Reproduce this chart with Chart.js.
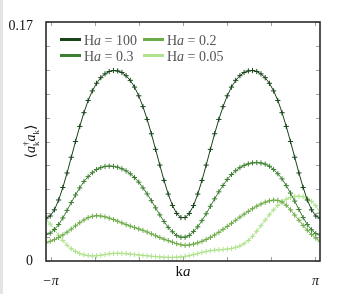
<!DOCTYPE html>
<html>
<head>
<meta charset="utf-8">
<script src="https://cdn.jsdelivr.net/npm/chart.js@4.4.0/dist/chart.umd.min.js"></script>
<style>
  html, body { margin: 0; padding: 0; background: #fff; }
  #wrap { position: relative; width: 353px; height: 294px; background: linear-gradient(to right, #e4e4e4 3px, #fff 3px); }
</style>
</head>
<body>
<div id="wrap"><canvas id="chart"></canvas></div>
<script>
// k a values (radians)
const ka = [-3.25, -3.15, -3.05, -2.95, -2.85, -2.75, -2.65, -2.55, -2.45, -2.35, -2.25,
  -2.15, -2.05, -1.95, -1.85, -1.75, -1.65, -1.55, -1.45, -1.35, -1.25, -1.15, -1.05,
  -0.95, -0.85, -0.75, -0.65, -0.55, -0.45, -0.35, -0.25, -0.15, -0.05,
  0.05, 0.15, 0.25, 0.35, 0.45, 0.55, 0.65, 0.75, 0.85, 0.95, 1.05, 1.15, 1.25, 1.35,
  1.45, 1.55, 1.65, 1.75, 1.85, 1.95, 2.05, 2.15, 2.25, 2.35, 2.45, 2.55, 2.65, 2.75,
  2.85, 2.95, 3.05, 3.15, 3.25];

// <a_k^+ a_k> for each Ha
const ha100 = [0.0305, 0.0320, 0.0364, 0.0434, 0.0523, 0.0626, 0.0738, 0.0850, 0.0957, 0.1055, 0.1142,
  0.1210, 0.1264, 0.1304, 0.1331, 0.1348, 0.1355, 0.1352, 0.1341, 0.1318, 0.1285, 0.1237, 0.1175,
  0.1098, 0.1007, 0.0905, 0.0794, 0.0682, 0.0573, 0.0476, 0.0395, 0.0338, 0.0309,
  0.0309, 0.0338, 0.0395, 0.0476, 0.0573, 0.0682, 0.0794, 0.0905, 0.1007, 0.1098, 0.1175, 0.1237,
  0.1285, 0.1318, 0.1341, 0.1352, 0.1355, 0.1348, 0.1331, 0.1304, 0.1264, 0.1210, 0.1142, 0.1055,
  0.0957, 0.0850, 0.0738, 0.0626, 0.0523, 0.0434, 0.0364, 0.0320, 0.0305];

const ha03 = [0.0190, 0.0198, 0.0224, 0.0259, 0.0306, 0.0360, 0.0416, 0.0470, 0.0520, 0.0566, 0.0600,
  0.0628, 0.0651, 0.0664, 0.0673, 0.0675, 0.0673, 0.0667, 0.0656, 0.0641, 0.0620, 0.0594, 0.0561,
  0.0520, 0.0477, 0.0429, 0.0378, 0.0328, 0.0281, 0.0239, 0.0208, 0.0181, 0.0169,
  0.0169, 0.0182, 0.0210, 0.0243, 0.0287, 0.0336, 0.0389, 0.0442, 0.0492, 0.0537, 0.0580, 0.0615,
  0.0642, 0.0664, 0.0680, 0.0691, 0.0698, 0.0700, 0.0697, 0.0689, 0.0674, 0.0651, 0.0621, 0.0584,
  0.0536, 0.0483, 0.0426, 0.0366, 0.0309, 0.0259, 0.0222, 0.0195, 0.0186];

const ha02 = [0.0130, 0.0140, 0.0152, 0.0167, 0.0185, 0.0205, 0.0227, 0.0250, 0.0272, 0.0292, 0.0308,
  0.0318, 0.0322, 0.0320, 0.0314, 0.0305, 0.0295, 0.0283, 0.0271, 0.0259, 0.0248, 0.0238, 0.0228,
  0.0218, 0.0206, 0.0193, 0.0180, 0.0167, 0.0155, 0.0145, 0.0134, 0.0123, 0.0116,
  0.0111, 0.0114, 0.0120, 0.0129, 0.0140, 0.0153, 0.0168, 0.0185, 0.0204, 0.0225, 0.0246, 0.0268,
  0.0290, 0.0312, 0.0333, 0.0353, 0.0372, 0.0390, 0.0405, 0.0418, 0.0428, 0.0433, 0.0431, 0.0420,
  0.0396, 0.0364, 0.0327, 0.0290, 0.0253, 0.0219, 0.0189, 0.0163, 0.0141];

const ha005 = [0.0300, 0.0262, 0.0222, 0.0183, 0.0146, 0.0113, 0.0087, 0.0068, 0.0054, 0.0044, 0.0038,
  0.0036, 0.0037, 0.0041, 0.0046, 0.0051, 0.0054, 0.0055, 0.0054, 0.0052, 0.0049, 0.0046, 0.0043,
  0.0040, 0.0037, 0.0034, 0.0031, 0.0029, 0.0027, 0.0026, 0.0026, 0.0027, 0.0029,
  0.0033, 0.0038, 0.0045, 0.0053, 0.0061, 0.0068, 0.0073, 0.0077, 0.0080, 0.0082, 0.0085, 0.0089,
  0.0096, 0.0107, 0.0123, 0.0146, 0.0176, 0.0212, 0.0251, 0.0291, 0.0329, 0.0364, 0.0395, 0.0420,
  0.0439, 0.0452, 0.0459, 0.0461, 0.0457, 0.0446, 0.0425, 0.0393, 0.0345];

const haLabels = ['100', '0.3', '0.2', '0.05'];
const haColors = ['#174418', '#3b7f2f', '#6cab47', '#aee28c'];

const yTicks = [0, 0.017, 0.034, 0.051, 0.068, 0.085, 0.102, 0.119, 0.136, 0.153, 0.17];
// top label sits a little below its tick, like the original
const yTickLabels = ['0', '', '', '', '', '', '', '', '', '', ['', '0.17']];
const xTicks = [-Math.PI, -2 * Math.PI / 3, -Math.PI / 3, 0, Math.PI / 3, 2 * Math.PI / 3, Math.PI];
const xTickLabels = ['\u2212\u03c0', '', '', '', '', '', '\u03c0'];

const SERIF = "'Liberation Serif', 'DejaVu Serif', serif";

// draw a run of text pieces with different fonts, starting at x
function drawRuns(ctx, runs, x, y) {
  runs.forEach(r => {
    ctx.font = r.font;
    ctx.fillText(r.t, x, y + (r.dy || 0));
    if (!r.stack) x += ctx.measureText(r.t).width;
  });
}
function runsWidth(ctx, runs) {
  let w = 0;
  runs.forEach(r => { ctx.font = r.font; if (!r.stack) w += ctx.measureText(r.t).width; });
  return w;
}

const framePlugin = {
  id: 'frame',
  afterDraw(chart) {
    const { ctx, chartArea: a, scales: { x, y } } = chart;
    ctx.save();

    // inward tick marks on all four sides
    ctx.strokeStyle = '#a0a0a0';
    ctx.lineWidth = 1;
    ctx.beginPath();
    xTicks.forEach(v => {
      const px = Math.round(x.getPixelForValue(v)) + 0.5;
      ctx.moveTo(px, a.bottom); ctx.lineTo(px, a.bottom - 4);
      ctx.moveTo(px, a.top); ctx.lineTo(px, a.top + 4);
    });
    yTicks.forEach(v => {
      const py = Math.round(y.getPixelForValue(v)) + 0.5;
      ctx.moveTo(a.left, py); ctx.lineTo(a.left + 4, py);
      ctx.moveTo(a.right, py); ctx.lineTo(a.right - 4, py);
    });
    ctx.stroke();

    // box
    ctx.strokeStyle = '#2a2a2a';
    ctx.lineWidth = 1.6;
    ctx.strokeRect(a.left, a.top, a.right - a.left, a.bottom - a.top);

    // x label "ka" in the middle of the tick row
    ctx.fillStyle = '#111';
    ctx.textBaseline = 'alphabetic';
    ctx.textAlign = 'left';
    const kaRuns = [
      { t: 'k', font: '15px ' + SERIF },
      { t: 'a', font: 'italic 15px ' + SERIF }
    ];
    drawRuns(ctx, kaRuns, x.getPixelForValue(0) - runsWidth(ctx, kaRuns) / 2, 276);

    // y label <a_k^+ a_k>, rotated
    ctx.save();
    ctx.translate(30, (a.top + a.bottom) / 2);
    ctx.rotate(-Math.PI / 2);
    const yRuns = [
      { t: '\u27e8', font: '14px ' + SERIF },
      { t: 'a', font: 'italic 14px ' + SERIF },
      { t: '\u2020', font: '9px ' + SERIF, dy: -6, stack: true },
      { t: 'k', font: '9px ' + SERIF, dy: 4 },
      { t: 'a', font: 'italic 14px ' + SERIF },
      { t: 'k', font: '9px ' + SERIF, dy: 4 },
      { t: '\u27e9', font: '14px ' + SERIF }
    ];
    drawRuns(ctx, yRuns, -runsWidth(ctx, yRuns) / 2, 5);
    ctx.restore();

    // legend, two columns
    const cols = [60, 143];
    const rows = [39.5, 55.5];
    chart.data.datasets.forEach((ds, i) => {
      const lx = cols[Math.floor(i / 2)];
      const ly = rows[i % 2];
      ctx.strokeStyle = ds.borderColor;
      ctx.lineWidth = 3;
      ctx.beginPath();
      ctx.moveTo(lx, ly); ctx.lineTo(lx + 21, ly);
      ctx.stroke();
      ctx.fillStyle = '#555';
      drawRuns(ctx, [
        { t: 'H', font: '14px ' + SERIF },
        { t: 'a', font: 'italic 14px ' + SERIF },
        { t: ' = ' + haLabels[i], font: '14px ' + SERIF }
      ], lx + 24, ly + 5);
    });

    ctx.restore();
  }
};

const datasets = [ha100, ha03, ha02, ha005].map((vals, i) => ({
  label: 'Ha = ' + haLabels[i],
  data: ka.map((k, j) => ({ x: k, y: vals[j] })),
  borderColor: haColors[i],
  backgroundColor: haColors[i],
  borderWidth: 1,
  pointStyle: 'cross',
  pointRadius: 2.6,
  pointBorderWidth: 1,
  pointBorderColor: haColors[i],
  tension: 0
}));

new Chart(document.getElementById('chart'), {
  type: 'line',
  data: { datasets },
  options: {
    responsive: true,
    maintainAspectRatio: false,
    animation: false,
    layout: { padding: { top: 22, right: 33, left: 0, bottom: 0 } },
    plugins: { legend: { display: false }, tooltip: { enabled: false } },
    scales: {
      x: {
        type: 'linear',
        min: -3.25,
        max: 3.25,
        afterBuildTicks: s => { s.ticks = xTicks.map(v => ({ value: v })); },
        afterFit: s => { s.height = 33; },
        ticks: {
          callback: (v, i) => xTickLabels[i],
          autoSkip: false,
          maxRotation: 0,
          padding: 4,
          color: '#111',
          font: { family: SERIF, size: 14, style: 'italic' }
        },
        grid: { display: false },
        border: { display: false }
      },
      y: {
        min: 0,
        max: 0.17,
        afterBuildTicks: s => { s.ticks = yTicks.map(v => ({ value: v })); },
        afterFit: s => { s.width = 46; },
        ticks: {
          callback: (v, i) => yTickLabels[i],
          autoSkip: false,
          padding: 5,
          color: '#111',
          font: { family: SERIF, size: 14, lineHeight: 0.65 }
        },
        grid: { display: false },
        border: { display: false }
      }
    }
  },
  plugins: [framePlugin]
});
</script>
</body>
</html>
